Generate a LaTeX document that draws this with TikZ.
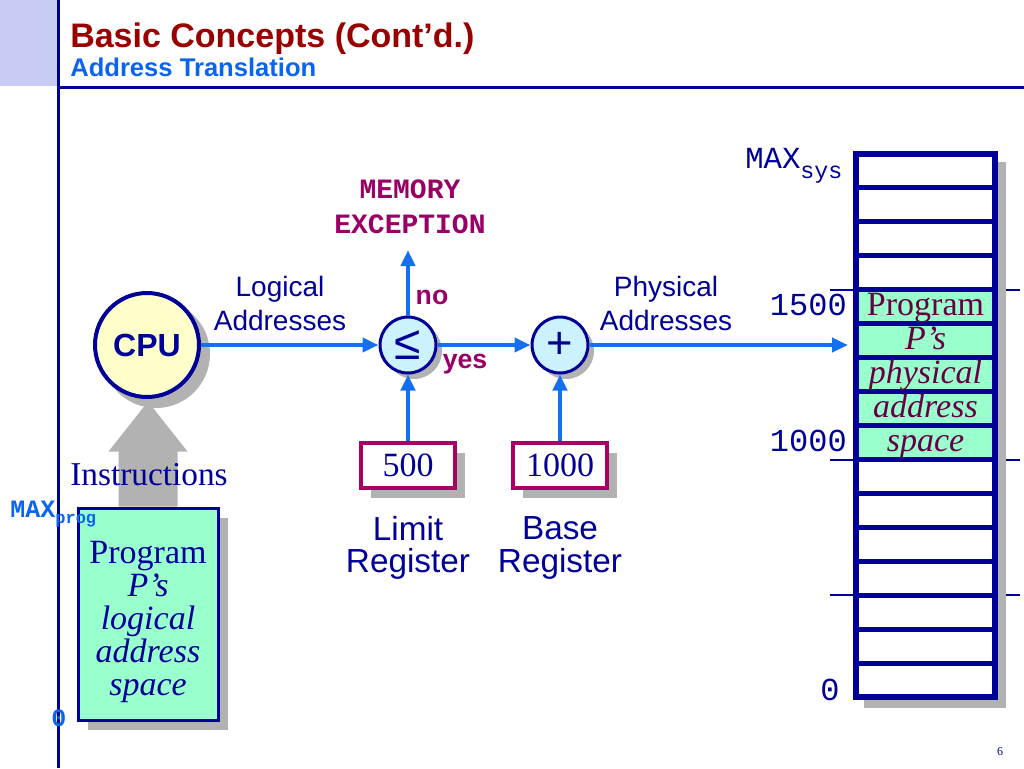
\documentclass[tikz,border=0pt]{standalone}
\usepackage{fontspec}
\setmainfont{Liberation Serif}
\setsansfont{Liberation Sans}
\setmonofont{Liberation Mono}
\usetikzlibrary{arrows.meta,calc}
\definecolor{navy}{HTML}{000099}
\definecolor{titlered}{HTML}{990000}
\definecolor{subblue}{HTML}{0A64F0}
\definecolor{arrowblue}{HTML}{1570EF}
\definecolor{magent}{HTML}{990066}
\definecolor{regborder}{HTML}{AA0066}
\definecolor{greenfill}{HTML}{99FFCC}
\definecolor{opfill}{HTML}{CCF2FF}
\definecolor{cpufill}{HTML}{FFFFCC}
\definecolor{shadowgray}{HTML}{B2B2B2}
\definecolor{hdrfill}{HTML}{C8CCF5}
\definecolor{memtext}{HTML}{660044}
\tikzset{
  conn/.style={draw=arrowblue, line width=3pt, -{Triangle[length=12pt,width=10.5pt]}},
  opcircle/.style={circle, draw=navy, line width=2.25pt, fill=opfill, minimum size=42pt, inner sep=0pt, text=navy},
  regbox/.style={rectangle, draw=regborder, line width=3pt, fill=white, minimum width=70.5pt, minimum height=33.75pt, inner sep=0pt, text=navy, font=\fontsize{25.5}{25.5}\selectfont},
  sanslabel/.style={align=center, text=navy, font=\sffamily\fontsize{21}{25}\selectfont},
  reglabel/.style={align=center, text=navy, font=\sffamily\fontsize{25}{24.5}\selectfont},
  maglabel/.style={text=magent, font=\sffamily\bfseries\fontsize{20}{24}\selectfont},
  memlabel/.style={text=navy, font=\ttfamily\fontsize{24}{24}\selectfont},
  thinline/.style={draw=navy, line width=1.5pt},
}
\begin{document}
\begin{tikzpicture}[x=0.75pt,y=-0.75pt]
\useasboundingbox (0,0) rectangle (1024,768);
% header
\fill[hdrfill] (0,0) rectangle (57,86);
\draw[navy,line width=2.25pt] (58,0) -- (58,768);
\draw[navy,line width=2.25pt] (58,87) -- (1024,87);
\node[anchor=base west, inner sep=0pt, text=titlered, font=\sffamily\bfseries\fontsize{25.5}{30}\selectfont] (title) at (70,47) {Basic Concepts (Cont’d.)};
\node[anchor=base west, inner sep=0pt, text=subblue, font=\sffamily\bfseries\fontsize{19.2}{22}\selectfont] (subtitle) at (70,76) {Address Translation};

% program logical box
\fill[shadowgray] (88,518) rectangle (228,730);
\node[rectangle, draw=navy, line width=2.25pt, fill=greenfill, minimum width=105pt, minimum height=159pt, inner sep=0pt] (prog) at (148,614) {};
\node[align=center, text=navy, font=\fontsize{25.5}{24.6}\selectfont] (progtxt) at (148,622) {Program\\\textit{P’s}\\\textit{logical}\\\textit{address}\\\textit{space}};
\node[anchor=base west, inner sep=0pt, text=subblue, font=\ttfamily\bfseries\fontsize{18.75}{20}\selectfont] (maxprog) at (10,517) {MAX\raisebox{-5pt}{\fontsize{12.8}{13}\selectfont prog}};
\node[inner sep=0pt, text=subblue, font=\ttfamily\bfseries\fontsize{18.75}{20}\selectfont] (zeroprog) at (59,718) {0};

% CPU
\fill[shadowgray] (156,354) circle (54);
\node[circle, draw=navy, line width=3pt, fill=cpufill, minimum size=78pt, inner sep=0pt, text=navy, font=\sffamily\bfseries\fontsize{24}{24}\selectfont] (cpu) at (147,345) {CPU};

% instruction arrow (gray block arrow from program box to CPU)
\fill[shadowgray] ($(prog.north)+(-29.5,0)$) -- ++(0,-55) -- ++(-10,0) -- ($(prog.north)+(0,-105)$) -- ($(prog.north)+(39.5,-55)$) -- ++(-10,0) -- ($(prog.north)+(29.5,0)$) -- cycle;
\node[text=navy, font=\fontsize{25}{25}\selectfont] (instr) at (149,475) {Instructions};

% operator circles
\fill[shadowgray] (414,351) circle (28);
\fill[shadowgray] (566,351) circle (28);
\node[opcircle, font=\sffamily\fontsize{36}{36}\selectfont] (le) at (408,345) {≤};
\node[opcircle, font=\sffamily\fontsize{34}{34}\selectfont] (plus) at (560,345) {+};

% registers
\fill[shadowgray] (371,453) rectangle (465,498);
\fill[shadowgray] (523,453) rectangle (617,498);
\node[regbox] (limit) at (408,465.5) {500};
\node[regbox] (base) at (560,465.5) {1000};
\node[reglabel] (limitlbl) at (408,548) {Limit\\Register};
\node[reglabel] (baselbl) at (560,548) {Base\\Register};

% labels
\node[sanslabel] (logical) at (280,303.5) {Logical\\Addresses};
\node[sanslabel] (physical) at (666,303.5) {Physical\\Addresses};
\node[align=center, text=magent, font=\ttfamily\bfseries\fontsize{21}{26}\selectfont] (exctext) at (410,207) {MEMORY\\EXCEPTION};
\coordinate (exc) at (408,250);
\node[maglabel] (no) at (432,297) {no};
\node[maglabel] (yes) at (465,364) {yes};

% memory column
\draw[thinline] (830,289.8) -- (1020,289.8);
\draw[thinline] (830,459.5) -- (1020,459.5);
\draw[thinline] (830,595.2) -- (1020,595.2);
\fill[shadowgray] (864,162) rectangle (1006,708);
\node[rectangle, fill=white, minimum width=104.25pt, minimum height=407.25pt, inner sep=0pt, outer sep=0pt] (mem) at (925.5,425.5) {};
\fill[greenfill] (856,289.76) rectangle (995,459.46);
\foreach \i in {1,...,15} {
  \draw[navy, line width=3.75pt] (856,{154+\i*33.94}) -- (995,{154+\i*33.94});
}
\draw[navy, line width=4.5pt] (mem.north west) rectangle (mem.south east);
\node[align=center, text=memtext, font=\fontsize{25.5}{25.45}\selectfont] (memtxt) at (925.5,376) {Program\\\textit{P’s}\\\textit{physical}\\\textit{address}\\\textit{space}};
\node[anchor=base west, inner sep=0pt, text=navy, font=\ttfamily\fontsize{23}{23}\selectfont] (maxsys) at (745,168) {MAX\raisebox{-7.5pt}{\fontsize{17.5}{17.5}\selectfont sys}};
\node[memlabel, anchor=east, inner sep=0pt] (m1500) at (847,305) {1500};
\node[memlabel, anchor=east, inner sep=0pt] (m1000) at (847,441) {1000};
\node[memlabel, inner sep=0pt] (m0) at (830,690) {0};

% connectors
\draw[conn] (cpu) -- (le);
\draw[conn] (le) -- (plus);
\draw[conn] (plus) -- ([xshift=-6pt]mem.west |- plus.east);
\draw[conn] (le) -- (exc);
\draw[conn] (limit) -- (le);
\draw[conn] (base) -- (plus);

\node[text=navy, font=\fontsize{9}{9}\selectfont] (pagenum) at (1000,752) {6};
\end{tikzpicture}
\end{document}
